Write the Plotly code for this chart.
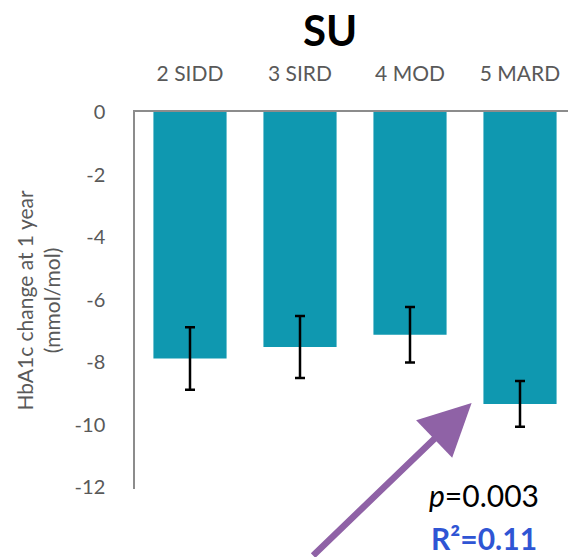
import plotly.graph_objects as go

categories = ["2 SIDD", "3 SIRD", "4 MOD", "5 MARD"]
hba1c_change = [-7.88, -7.51, -7.12, -9.33]
error_sd = [1.0, 0.99, 0.89, 0.73]
y_ticks = [0, -2, -4, -6, -8, -10, -12]

TEAL = "#0f98b0"
GRAY = "#595959"
FONT = "Lato"

W, H = 568, 557
ML, MR, MT, MB = 135, 0, 112, 68
PH = H - MT - MB


def px_to_paper_y(py):
    return (H - MB - py) / PH


def px_to_paper_x(px):
    return (px - ML) / (W - ML - MR)


fig = go.Figure()
fig.add_trace(go.Bar(
    x=list(range(len(categories))),
    y=hba1c_change,
    width=0.665,
    marker=dict(color=TEAL, line=dict(width=0)),
    error_y=dict(type="data", array=error_sd, visible=True,
                 color="black", thickness=2.5, width=5),
))

fig.add_annotation(
    x=2.56, y=-9.3, xref="x", yref="y", text="",
    showarrow=True, ax=-160, ay=167, axref="pixel", ayref="pixel",
    arrowhead=2, arrowsize=1.6, arrowwidth=6.5, arrowcolor="#8f62a6",
)
fig.add_annotation(
    x=px_to_paper_x(484), y=px_to_paper_y(495), xref="paper", yref="paper",
    text="<i>p</i>=0.003",
    showarrow=False, font=dict(family=FONT, size=30, color="black"),
    xanchor="center", yanchor="middle",
)
fig.add_annotation(
    x=px_to_paper_x(484), y=px_to_paper_y(538), xref="paper", yref="paper",
    text="<b>R²=0.11</b>",
    showarrow=False, font=dict(family=FONT, size=30, color="#2f55d4"),
    xanchor="center", yanchor="middle",
)

fig.update_layout(
    width=W, height=H,
    margin=dict(l=ML, r=MR, t=MT, b=MB),
    paper_bgcolor="white", plot_bgcolor="white",
    showlegend=False,
    title=dict(text="<b>SU</b>", x=330 / W, xref="container", xanchor="center",
               y=1 - 31 / H, yref="container", yanchor="middle",
               font=dict(family=FONT, size=42, color="black")),
    font=dict(family=FONT),
)
fig.update_xaxes(
    side="top", range=[-0.5, -0.5 + (W - ML - MR) / 110],
    tickmode="array", tickvals=list(range(len(categories))), ticktext=categories,
    tickfont=dict(family=FONT, size=21, color=GRAY),
    showline=True, linecolor="#8c8c8c", linewidth=1.5,
    showgrid=False, zeroline=False, ticks="", ticklabelstandoff=21,
)
fig.update_yaxes(
    range=[-12.05, 0], tickmode="array", tickvals=y_ticks,
    ticktext=[str(v) for v in y_ticks],
    tickfont=dict(family=FONT, size=20, color=GRAY),
    showline=True, linecolor="#8c8c8c", linewidth=1.5,
    showgrid=False, zeroline=False, ticks="", ticklabelstandoff=24,
    title=dict(text="HbA1c change at 1 year<br>(mmol/mol)",
               font=dict(family=FONT, size=21, color=GRAY), standoff=8),
)

fig.write_html("out.html")
